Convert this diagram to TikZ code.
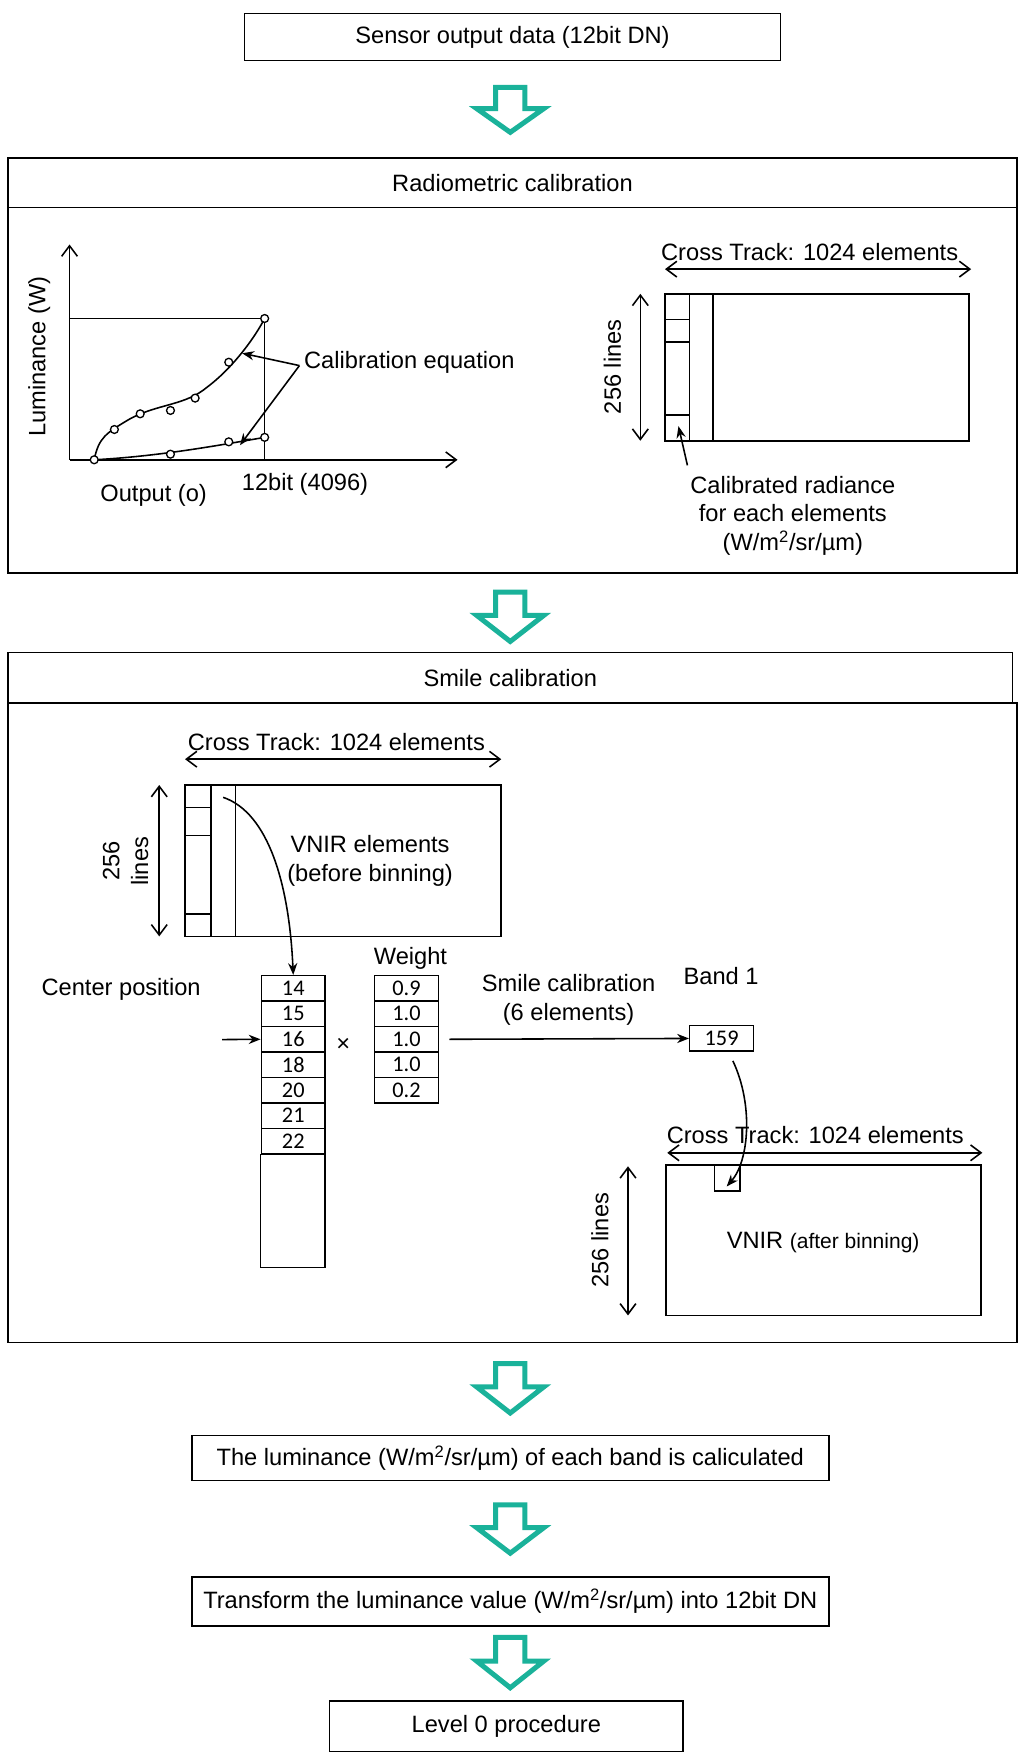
\documentclass[tikz,border=0pt]{standalone}
\usepackage{fontspec}
\setmainfont{Liberation Sans}
\newfontfamily\carlitofont{Carlito}
\usetikzlibrary{arrows.meta}
\definecolor{teal1}{HTML}{1AB29A}
\newcommand\hollowarrow[3]{%
  \draw[teal1,line width=3.8pt,line join=miter,fill=white]
   (#1-13,#2) -- (#1+13,#2) -- (#1+13,#2+0.47*#3-0.47*#2) -- (#1+30,#2+0.47*#3-0.47*#2)
   -- (#1,#3) -- (#1-30,#2+0.47*#3-0.47*#2) -- (#1-13,#2+0.47*#3-0.47*#2) -- cycle;}
\begin{document}
\begin{tikzpicture}[x=0.3mm,y=-0.3mm,font=\fontsize{18}{22}\selectfont,
  box/.style={draw,line width=1.2pt,inner sep=0pt},
  ln/.style={line width=1.2pt},
  arr/.style={line width=1.2pt,-{Straight Barb[length=8pt,width=12pt]}},
  darr/.style={line width=1.2pt,{Straight Barb[length=8pt,width=12pt]}-{Straight Barb[length=8pt,width=12pt]}},
  farr/.style={line width=1.2pt,-{Stealth[length=9pt,width=7pt]}},
  cell/.style={draw,line width=1.1pt,minimum width=57*0.3mm,minimum height=22.7*0.3mm,inner sep=0pt,font=\carlitofont\fontsize{17}{19}\selectfont},
  dot/.style={draw,circle,fill=white,inner sep=0pt,minimum size=6pt,line width=1pt}]
\useasboundingbox (0,0) rectangle (913,1573);
% top
\node[box,minimum width=478*0.3mm,minimum height=42*0.3mm] (s) at (457,33) {Sensor output data (12bit DN)};
\hollowarrow{455}{78}{118}
% Radiometric
\draw[ln] (7,141) rectangle (907,511);
\draw[ln] (7,185) -- (907,185);
\node (rt) at (457,163) {Radiometric calibration};
% graph
\coordinate (o) at (62,410);
\coordinate (yt) at (62,218);
\coordinate (xt) at (408,410);
\draw[arr] (o) -- (yt);
\draw[arr] (o) -- (xt);
\draw[ln] (62,284) -- (236,284) -- (236,410);
\draw[ln] (84,410) .. controls (88,390) and (95,386) .. (115,374) .. controls (140,360) and (165,362) .. (185,345) .. controls (205,330) and (225,305) .. (236,284);
\draw[ln] (84,410) .. controls (140,407) and (190,398) .. (236,390);
\foreach \p in {(84,410),(102,383),(125,369),(152,366),(174,355),(204,323),(236,284),(152,405),(204,394),(236,390)}
  \node[dot] at \p {};
\node (ce) at (365,323) {Calibration equation};
\coordinate (cs) at (267,326);
\coordinate (c1) at (216,315);
\coordinate (c2) at (214,397);
\draw[farr] (cs) -- (c1);
\draw[farr] (cs) -- (c2);
\node[rotate=90] (lum) at (35,318) {Luminance (W)};
\node (out) at (137,442) {Output (o)};
\node (bit) at (272,432) {12bit (4096)};
% right array
\coordinate (ca) at (593,240); \coordinate (cb) at (866,240);
\draw[darr] (ca) -- (cb);
\node (ct1) at (722,225) {Cross Track: 1024 elements};
\draw[ln] (593,262) rectangle (864,393);
\draw[ln] (615,262) -- (615,393) (636,262) -- (636,393);
\draw[ln] (593,285) -- (615,285) (593,305) -- (615,305) (593,370) -- (615,370);
\coordinate (va) at (571,262); \coordinate (vb) at (571,393);
\draw[darr] (va) -- (vb);
\node[rotate=90] (l1) at (546,327) {256 lines};
\coordinate (pa) at (613,415); \coordinate (pb) at (605,380);
\draw[farr] (pa) -- (pb);
\node[align=center] (cr) at (707,460) {Calibrated radiance\\for each elements\\(W/m\textsuperscript{2}/sr/µm)};
\hollowarrow{455}{528}{572}
% Smile
\draw[ln] (7,582) rectangle (903,627);
\draw[ln] (7,627) rectangle (907,1197);
\node (st) at (455,605) {Smile calibration};
\coordinate (da) at (165,677); \coordinate (db) at (447,677);
\draw[darr] (da) -- (db);
\node (ct2) at (300,662) {Cross Track: 1024 elements};
\draw[ln] (165,700) rectangle (447,835);
\draw[ln] (188,700) -- (188,835) (210,700) -- (210,835);
\draw[ln] (165,720) -- (188,720) (165,745) -- (188,745) (165,815) -- (188,815);
\coordinate (wa) at (142,700); \coordinate (wb) at (142,835);
\draw[darr] (wa) -- (wb);
\node[rotate=90,align=center] (l2) at (112,768) {256\\lines};
\node[align=center] (vn) at (330,768) {VNIR elements\\(before binning)};
\node (cp) at (108,882) {Center position};
\node (wt) at (366,855) {Weight};
\foreach \v [count=\i] in {14,15,16,18,20,21,22}
  \node[cell] (c\i) at (261.5,870+22.7*\i-11.35) {\v};
\draw[line width=1.1pt] (c7.south west) rectangle (290,1130);
\foreach \v [count=\i] in {0.9,1.0,1.0,1.0,0.2}
  \node[cell] (w\i) at (362.5,870+22.7*\i-11.35) {\v};
\coordinate (s1) at (199,711);
\draw[farr] (s1) .. controls (240,725) and (258,790) .. (c1.north);
\coordinate (cpa) at (198,927);
\draw[farr] (cpa) -- (c3.west);
\node (x) at (306,932) {×};
\node[align=center] (sc) at (507,892) {Smile calibration\\(6 elements)};
\node (b1) at (643,870) {Band 1};
\node[cell] (bv) at (643.5,926) {159};
\draw[farr] (w3.east) ++(9,0) -- (bv.west);
\draw[darr] (595,1028) coordinate (ea) -- (876,1028) coordinate (eb);
\node (ct3) at (727,1012) {Cross Track: 1024 elements};
\draw[ln] (594,1039) rectangle (875,1173);
\draw[ln] (637,1039) rectangle (660,1062);
\coordinate (sq) at (648,1058);
\draw[farr] (bv.south) ++(10,8) .. controls (672,985) and (668,1035) .. (sq);
\draw[darr] (560,1040) coordinate (fa) -- (560,1173) coordinate (fb);
\node[rotate=90] (l3) at (535,1106) {256 lines};
\node (va2) at (734,1108) {VNIR {\fontsize{16}{18}\selectfont(after binning)}};
\hollowarrow{455}{1216}{1260}
\node[box,minimum width=568*0.3mm,minimum height=40*0.3mm] (lu) at (455,1300) {The luminance (W/m\textsuperscript{2}/sr/µm) of each band is caliculated};
\hollowarrow{455}{1342}{1385}
\node[box,minimum width=568*0.3mm,minimum height=44*0.3mm] (tr) at (455,1428) {Transform the luminance value (W/m\textsuperscript{2}/sr/µm) into 12bit DN};
\hollowarrow{455}{1460}{1505}
\node[box,minimum width=315*0.3mm,minimum height=45*0.3mm] (l0) at (451.5,1539.5) {Level 0 procedure};
\end{tikzpicture}
\end{document}
